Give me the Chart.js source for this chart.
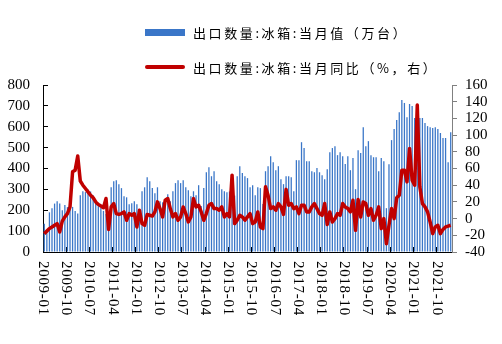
<!DOCTYPE html>
<html>
<head>
<meta charset="utf-8">
<script src="https://cdn.jsdelivr.net/npm/chart.js@4.4.1/dist/chart.umd.min.js"></script>
<style>
  body { margin: 0; background: #fff; }
  #wrap { position: relative; width: 502px; height: 344px; }
  #legend { position: absolute; left: 145px; top: 22px; }
  #legend .item { display: flex; align-items: center; height: 20px; margin-bottom: 15px; }
  #legend .swatch { width: 40px; margin-right: 8px; }
  #legend .text { font: 13px "Noto Sans CJK SC", sans-serif; letter-spacing: 2.6px; color: #000; white-space: nowrap; }
</style>
</head>
<body>
<div id="wrap">
  <canvas id="fridgeChart" width="502" height="344"></canvas>
  <div id="legend"></div>
</div>
<script>
document.addEventListener("DOMContentLoaded", function () {
  // monthly fridge exports, 2009-01 .. 2022-03 (10k units)
  const exportVolume = [
    135, 90, 190, 210, 232, 243, 232, 200, 225, 215, 210, 216, // 2009
    197, 185, 272, 291, 287, 300, 290, 272, 240, 221, 211, 197, // 2010
    182, 160, 310, 339, 344, 325, 306, 267, 262, 229, 234, 243, // 2011
    229, 200, 291, 310, 358, 339, 306, 282, 310, 243, 238, 253, // 2012
    277, 243, 291, 330, 344, 330, 344, 310, 296, 267, 291, 272, // 2013
    320, 220, 306, 382, 406, 363, 387, 339, 325, 301, 291, 286, // 2014
    290, 300, 270, 363, 411, 378, 363, 354, 310, 320, 272, 310, // 2015
    306, 230, 387, 411, 459, 430, 392, 411, 349, 325, 363, 363, // 2016
    358, 291, 440, 440, 526, 498, 435, 435, 387, 382, 402, 382, // 2017
    368, 349, 397, 478, 498, 507, 464, 478, 459, 421, 459, 392, // 2018
    450, 301, 488, 474, 598, 507, 531, 464, 454, 454, 387, 450, // 2019
    435, 210, 420, 536, 589, 632, 670, 728, 714, 646, 709, 699, // 2020
    642, 510, 642, 642, 618, 603, 598, 594, 598, 589, 570, 546, // 2021
    546, 430, 574 // 2022
  ];

  // year-on-year change, % (right axis)
  const yoyChange = [
    -18, -15, -12, -10, -8, -6, -16, -3, 2, 6, 14, 56,
    58, 75, 45, 40, 36, 32, 28, 25, 20, 17, 15, 13,
    24, -13, 14, 18, 6, 5, 6, 8, -2, 6, 4, 6,
    -10, 10, -6, -8, 5, 4, 3, 8, 20, 12, 2, 22,
    24, 12, 2, 6, -2, 2, 14, 6, -4, 2, 24, 14,
    16, 8, -2, 6, 16, 18, 12, 12, 10, 14, 2, 6,
    2, 52, -6, -2, 4, 2, -2, 2, 6, -6, -4, 8,
    -10, -12, 38, 28, 12, 14, 10, 18, 14, 5, 35, 16,
    18, 12, 14, 6, 16, 16, 8, 8, 14, 18, 12, 6,
    4, 18, -7, 8, -4, 0, 6, 4, 18, 14, 12, 8,
    22, -14, 23, 2, 20, 18, 4, 12, -2, 4, 14, -12,
    0, -30, -8, 12, 0, 25, 28, 58, 58, 44, 84, 46,
    40, 136, 38, 18, 14, 8, -4, -18, -10, -8, -18, -13,
    -10, -9, -8
  ];

  const tickLabels = [
    "2009-01", "2009-10", "2010-07", "2011-04", "2012-01", "2012-10",
    "2013-07", "2014-04", "2015-01", "2015-10", "2016-07", "2017-04",
    "2018-01", "2018-10", "2019-07", "2020-04", "2021-01", "2021-10"
  ];

  const startYear = 2009;
  const months = exportVolume.map(function (_, i) {
    return startYear + Math.floor(i / 12) + "-" + String((i % 12) + 1).padStart(2, "0");
  });

  const serif = "'Liberation Serif', 'Times New Roman', serif";

  // month labels read top-to-bottom under the axis
  const monthLabels = {
    id: "monthLabels",
    afterDraw: function (chart) {
      const xs = chart.scales.x;
      const half = (xs.getPixelForValue(1) - xs.getPixelForValue(0)) / 2;
      const ctx = chart.ctx;
      ctx.save();
      ctx.font = "15px " + serif;
      ctx.fillStyle = "#000";
      ctx.textAlign = "left";
      ctx.textBaseline = "middle";
      ctx.letterSpacing = "0.7px";
      months.forEach(function (m, i) {
        if (tickLabels.indexOf(m) < 0) return;
        ctx.save();
        ctx.translate(xs.getPixelForValue(i) - half, xs.top + 9);
        ctx.rotate(Math.PI / 2);
        ctx.fillText(m, 0, 0);
        ctx.restore();
      });
      ctx.restore();
    },
  };

  // legend built as html, stacked
  const htmlLegend = {
    id: "htmlLegend",
    afterUpdate: function (chart) {
      const box = document.getElementById("legend");
      box.innerHTML = "";
      chart.data.datasets.forEach(function (ds) {
        const item = document.createElement("div");
        item.className = "item";
        const sw = document.createElement("span");
        sw.className = "swatch";
        if (ds.type === "line") {
          sw.style.height = "4px";
          sw.style.borderRadius = "2px";
          sw.style.background = ds.borderColor;
        } else {
          sw.style.height = "7px";
          sw.style.background = ds.backgroundColor;
        }
        const txt = document.createElement("span");
        txt.className = "text";
        txt.textContent = ds.label;
        item.appendChild(sw);
        item.appendChild(txt);
        box.appendChild(item);
      });
    },
  };

  var ctx = document.getElementById("fridgeChart").getContext("2d");

  new Chart(ctx, {
    type: "bar",
    data: {
      labels: months,
      datasets: [
        {
          type: "bar",
          label: "出口数量:冰箱:当月值（万台）",
          data: exportVolume,
          backgroundColor: "#3A76C8",
          yAxisID: "y",
          order: 2,
          barPercentage: 0.5,
          categoryPercentage: 1,
        },
        {
          type: "line",
          label: "出口数量:冰箱:当月同比（%，右）",
          data: yoyChange,
          borderColor: "#C00000",
          backgroundColor: "#C00000",
          borderWidth: 3.5,
          borderJoinStyle: "round",
          pointRadius: 0,
          tension: 0,
          yAxisID: "y1",
          order: 1,
        },
      ],
    },
    options: {
      responsive: false,
      animation: false,
      layout: { padding: { top: 85, left: 0, right: 0, bottom: 0 } },
      scales: {
        x: {
          offset: true,
          afterFit: function (s) { s.height = 92; },
          ticks: { display: false },
          grid: {
            drawOnChartArea: false,
            tickLength: -5,
            color: function (c) { return c.index % 9 === 0 ? "#000" : "rgba(0,0,0,0)"; },
          },
          border: { color: "#000", width: 1 },
        },
        y: {
          position: "left",
          min: 0,
          max: 800,
          afterFit: function (s) { s.width = 43; },
          ticks: {
            stepSize: 100,
            autoSkip: false,
            padding: 18,
            color: "#000",
            font: { family: serif, size: 15 },
          },
          grid: { drawOnChartArea: false, tickLength: -5, color: "#000" },
          border: { color: "#000", width: 1 },
        },
        y1: {
          position: "right",
          min: -40,
          max: 160,
          afterFit: function (s) { s.width = 50; },
          ticks: {
            stepSize: 20,
            autoSkip: false,
            padding: 8,
            color: "#000",
            font: { family: serif, size: 15 },
          },
          grid: { drawOnChartArea: false, tickLength: 5, color: "#808080" },
          border: { color: "#808080", width: 1 },
        },
      },
      plugins: {
        legend: { display: false },
        tooltip: { enabled: false },
      },
    },
    plugins: [monthLabels, htmlLegend],
  });
});
</script>
</body>
</html>
